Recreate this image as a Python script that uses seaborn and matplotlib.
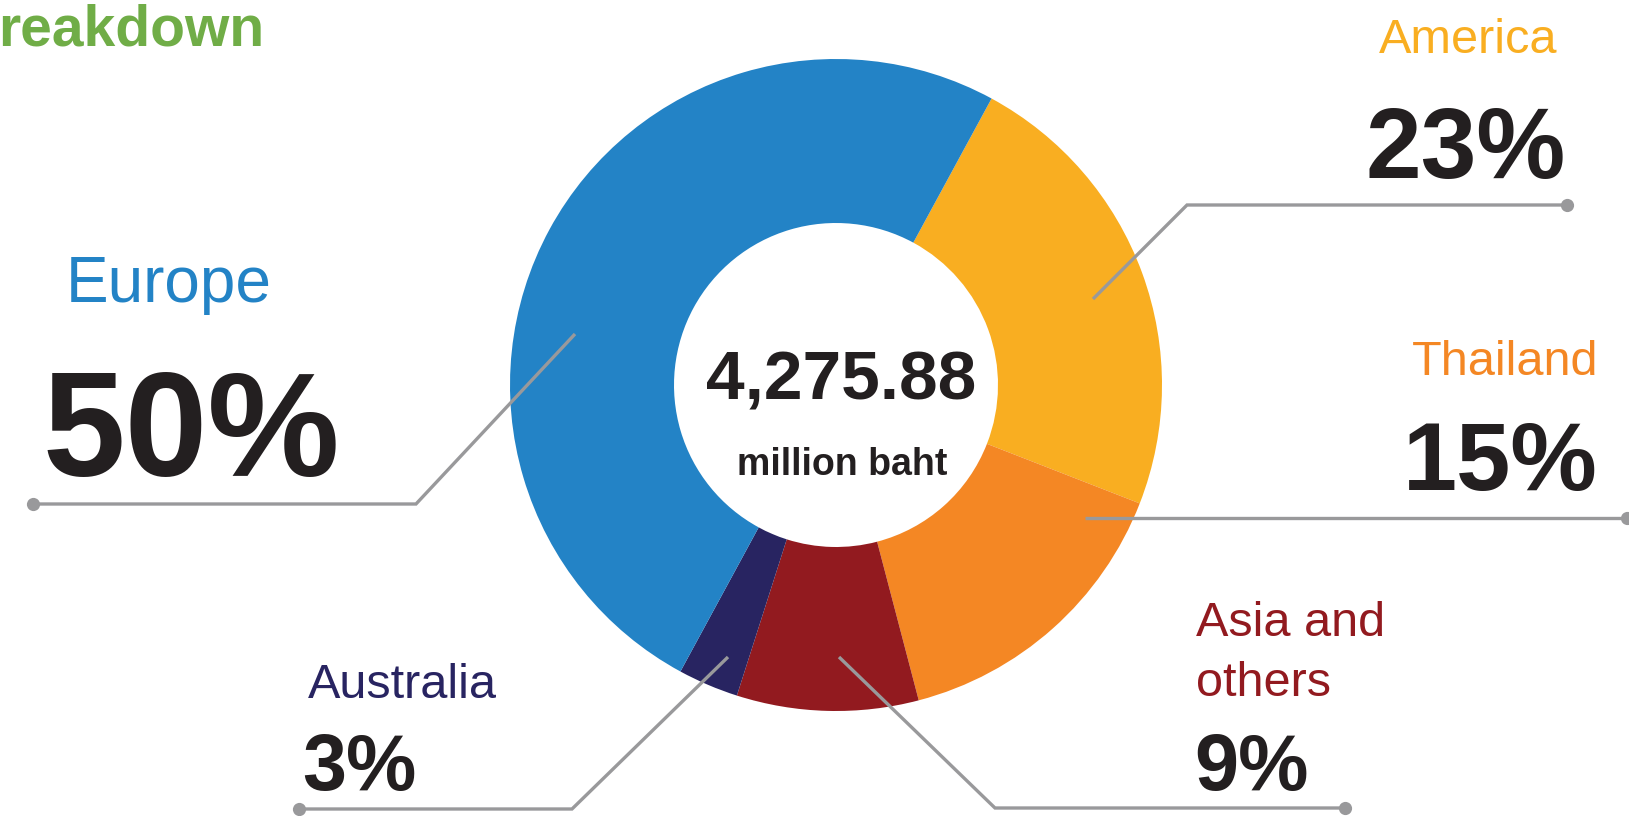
import matplotlib
matplotlib.use("Agg")
import matplotlib.pyplot as plt
import seaborn as sns

# ---- data ----
regions = ["America", "Thailand", "Asia and others", "Australia", "Europe"]
shares = [23, 15, 9, 3, 50]
colors = ["#F9AE21", "#F48724", "#921A1F", "#282461", "#2383C6"]
label_texts = ["America", "Thailand", "Asia and\nothers", "Australia", "Europe"]
pct_texts = ["23%", "15%", "9%", "3%", "50%"]
total_text = "4,275.88"
unit_text = "million baht"
title_text = "reakdown"

# ---- layout (image pixel coordinates) ----
W, H = 1629, 816
center = (836, 385)
r_out, r_in = 326, 162
label_pos = [(1379, 53), (1412, 375), (1196, 696), (308, 698), (66, 302)]
label_size = [35, 35, 35, 35, 46]
pct_pos = [(1366, 178), (1403, 490), (1194, 790), (302, 790), (42, 476)]
pct_size = [72, 70, 57, 57, 107]
leaders = [
    [(1567, 205), (1187, 205), (1093, 299)],
    [(1627, 518), (1085, 518)],
    [(1345, 808), (995, 808), (839, 657)],
    [(299, 809), (572, 809), (728, 657)],
    [(33, 504), (416, 504), (575, 334)],
]

sns.set_theme(style="white")
plt.rcParams["font.family"] = ["Liberation Sans", "DejaVu Sans"]
palette = sns.color_palette(colors)

fig = plt.figure(figsize=(W / 100, H / 100), dpi=100)
ax = fig.add_axes([0, 0, 1, 1])
ax.pie(shares, colors=palette, startangle=-61.5, counterclock=True,
       center=center, radius=r_out,
       wedgeprops=dict(width=r_out - r_in, edgecolor="none", linewidth=0))
ax.set_xlim(0, W)
ax.set_ylim(H, 0)
ax.set_aspect("equal")
ax.axis("off")

line_col = "#99999B"
for pts in leaders:
    xs = [p[0] for p in pts]
    ys = [p[1] for p in pts]
    ax.plot(xs, ys, color=line_col, lw=2.4, solid_capstyle="butt",
            solid_joinstyle="miter", zorder=5)
    ax.plot(xs[0], ys[0], "o", color=line_col, ms=9.5, mec="none", zorder=6)

dark = "#231F20"
for lab, (x, y), s, c in zip(label_texts, label_pos, label_size, colors):
    ax.text(x, y, lab, fontsize=s, color=c, ha="left",
            va="baseline", linespacing=1.42)
for pct, (x, y), s in zip(pct_texts, pct_pos, pct_size):
    ax.text(x, y, pct, fontsize=s, color=dark, ha="left",
            va="baseline", fontweight="bold")

ax.text(841, 400, total_text, fontsize=50, color=dark, ha="center",
        va="baseline", fontweight="bold")
ax.text(842, 475, unit_text, fontsize=27, color=dark, ha="center",
        va="baseline", fontweight="bold")
ax.text(-2, 46, title_text, fontsize=41, color="#70AD47", ha="left",
        va="baseline", fontweight="bold")

fig.savefig("out.png", dpi=100)
